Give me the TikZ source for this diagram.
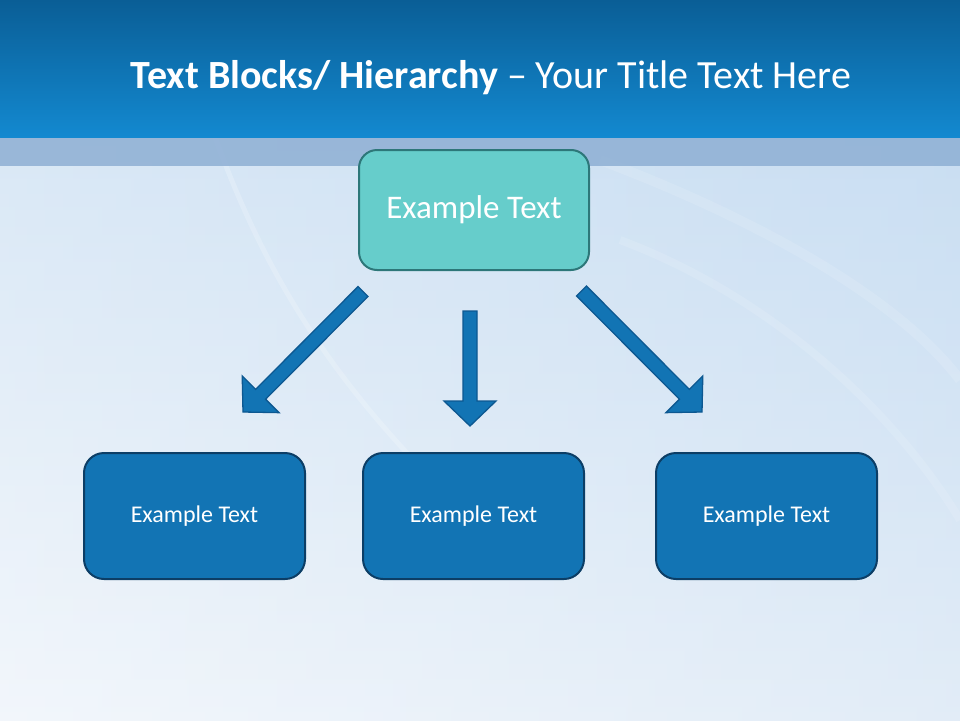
\documentclass[tikz,border=0pt]{standalone}
\usepackage{fontspec}
\setmainfont{Carlito}
\usetikzlibrary{calc}
\definecolor{barTop}{HTML}{0A5E96}
\definecolor{barBot}{HTML}{1389D0}
\definecolor{bandC}{HTML}{8EAFD4}
\definecolor{bgTop}{HTML}{C9DEF2}
\definecolor{bgBot}{HTML}{EDF3FA}
\definecolor{tealFill}{HTML}{66CDCB}
\definecolor{tealLine}{HTML}{2D7779}
\definecolor{boxFill}{HTML}{1274B4}
\definecolor{boxLine}{HTML}{0C3E66}
\definecolor{arrFill}{HTML}{1274B4}
\definecolor{arrLine}{HTML}{0D5891}
\tikzset{
  topbox/.style={draw=tealLine, fill=tealFill, line width=2pt, rounded corners=18pt,
    minimum width=230pt, minimum height=120pt, text=white, font=\fontsize{33}{36}\selectfont},
  childbox/.style={draw=boxLine, fill=boxFill, line width=2pt, rounded corners=20pt,
    minimum width=221pt, minimum height=126pt, text=white, font=\fontsize{24}{28}\selectfont},
  blockarr/.style={draw=arrLine, fill=arrFill, line width=1.3pt, line join=miter},
  swoosh/.style={white, opacity=0.35, line width=#1},
}
\newcommand{\blockarrow}[2]{%
  \path[blockarr]
    ($(#1)!7pt!90:(#2)$) --
    ($($(#2)!25pt!(#1)$)!7pt!90:(#2)$) --
    ($($(#2)!25pt!(#1)$)!26pt!90:(#2)$) --
    (#2) --
    ($($(#2)!25pt!(#1)$)!26pt!-90:(#2)$) --
    ($($(#2)!25pt!(#1)$)!7pt!-90:(#2)$) --
    ($(#1)!7pt!-90:(#2)$) -- cycle;}
\begin{document}
\begin{tikzpicture}[x=1pt,y=-1pt]
\useasboundingbox (0,0) rectangle (960,720);
% background
\shade[top color=bgTop, bottom color=bgBot] (0,137) rectangle (960,720);
\shade[left color=white, right color=bgTop, opacity=0.3] (0,137) rectangle (960,720);
\draw[swoosh=5pt, opacity=0.2] (215,137) .. controls (260,260) and (330,400) .. (520,560);
\draw[swoosh=10pt, opacity=0.12] (600,160) .. controls (760,220) and (900,300) .. (960,380);
\draw[swoosh=8pt, opacity=0.12] (620,240) .. controls (780,300) and (900,420) .. (960,520);
\fill[bandC, opacity=0.85] (0,137) rectangle (960,166);
\shade[top color=barTop, bottom color=barBot] (0,0) rectangle (960,137);
% title
\node[text=white, font=\fontsize{40}{44}\selectfont] (title) at (491,78)
  {\textbf{Text Blocks/ Hierarchy} – Your Title Text Here};
% nodes
\node[topbox] (top) at (474,210) {Example Text};
\node[childbox] (c1) at (194.5,516) {Example Text};
\node[childbox] (c2) at (473.5,516) {Example Text};
\node[childbox] (c3) at (766.5,516) {Example Text};
% arrows
\coordinate (s1) at (363,291.5);
\coordinate (t1) at (243,412);
\coordinate (s2) at (470,311);
\coordinate (t2) at (470,426);
\coordinate (s3) at (581.5,291);
\coordinate (t3) at (702,412);
\blockarrow{s1}{t1}
\blockarrow{s2}{t2}
\blockarrow{s3}{t3}
\end{tikzpicture}
\end{document}
